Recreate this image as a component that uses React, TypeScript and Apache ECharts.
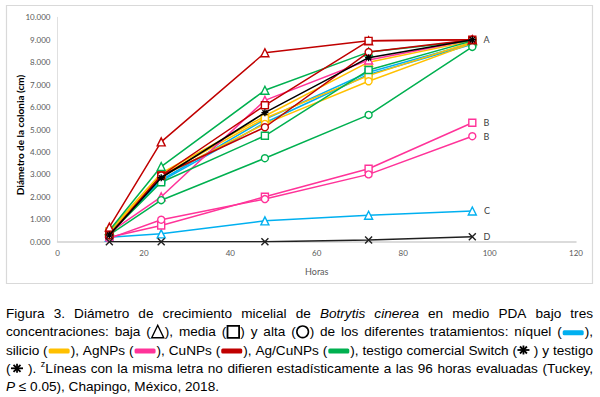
import React, { useEffect, useRef } from "react";
import * as echarts from "echarts";

// ---------- data ----------
const hours = [12, 24, 48, 72, 96];

const niquelBaja = [0.2, 0.35, 0.93, 1.18, 1.37];
const niquelMedia = [0.45, 2.75, 5.45, 7.55, 8.85];
const niquelAlta = [0.4, 2.7, 5.3, 7.45, 8.8];

const silicioBaja = [0.5, 3.05, 5.6, 8.0, 8.95];
const silicioMedia = [0.45, 2.95, 5.5, 7.4, 8.9];
const silicioAlta = [0.35, 2.9, 5.25, 7.15, 8.85];

const agnpsBaja = [0.4, 2.0, 6.3, 8.1, 9.0];
const agnpsMedia = [0.2, 0.72, 2.0, 3.25, 5.3];
const agnpsAlta = [0.15, 0.98, 1.9, 3.0, 4.7];

const agcuBaja = [0.5, 3.35, 6.75, 8.45, 8.95];
const agcuMedia = [0.35, 2.65, 4.72, 7.65, 8.95];
const agcuAlta = [0.3, 1.85, 3.72, 5.65, 8.68];

const cunpsBaja = [0.65, 4.45, 8.42, 8.95, 9.0];
const cunpsMedia = [0.3, 2.95, 6.08, 8.95, 9.0];
const cunpsAlta = [0.28, 2.95, 5.1, 8.45, 9.0];

const switchComercial = [0.3, 2.85, 5.75, 8.2, 9.0];
const testigo = [0.0, 0.0, 0.0, 0.08, 0.22];

const xTicks = { min: 0, max: 120, interval: 20 };
const yTicks = { min: 0, max: 10, interval: 1 };

const yTitle = "Diámetro de la colonia (cm)";
const xTitle = "Horas";

// ---------- caption ----------
type Piece =
  | string
  | { i: string }
  | { sup: string }
  | { shape: "tri" | "sq" | "cir" | "ast" }
  | { bar: string };
type Word = Piece[];

const BLUE = "#00B0F0";
const YELLOW = "#FFC000";
const PINK = "#FF3399";
const RED = "#C00000";
const GREEN = "#00B050";
const BLACK = "#000000";

const w = (s: string): Word => [s];
const captionLines: Word[][] = [
  [
    w("Figura"), w("3."), w("Diámetro"), w("de"), w("crecimiento"), w("micelial"), w("de"),
    [{ i: "Botrytis" }], [{ i: "cinerea" }], w("en"), w("medio"), w("PDA"), w("bajo"), w("tres"),
  ],
  [
    w("concentraciones:"), w("baja"), ["(", { shape: "tri" }, "),"], w("media"),
    ["(", { shape: "sq" }, ")"], w("y"), w("alta"), ["(", { shape: "cir" }, ")"], w("de"), w("los"),
    w("diferentes"), w("tratamientos:"), w("níquel"), ["(", { bar: BLUE }, "),"],
  ],
  [
    w("silicio"), ["(", { bar: YELLOW }, "),"], w("AgNPs"), ["(", { bar: PINK }, "),"], w("CuNPs"),
    ["(", { bar: RED }, "),"], w("Ag/CuNPs"), ["(", { bar: GREEN }, "),"], w("testigo"), w("comercial"),
    w("Switch"), ["(", { shape: "ast" }], w(")"), w("y"), w("testigo"),
  ],
  [
    ["(", { shape: "ast" }], w(")."), [{ sup: "z" }, "Líneas"], w("con"), w("la"), w("misma"), w("letra"),
    w("no"), w("difieren"), w("estadísticamente"), w("a"), w("las"), w("96"), w("horas"), w("evaluadas"),
    w("(Tuckey,"),
  ],
  [[{ i: "P" }], w("≤"), w("0.05),"), w("Chapingo,"), w("México,"), w("2018.")],
];
const captionY = [313.5, 331.8, 350, 368.3, 386.5];

const FONT = '"Liberation Sans", Arial, sans-serif';
const FS = 13.6;

function buildCaption(): any[] {
  const cv = document.createElement("canvas");
  const ctx = cv.getContext("2d") as CanvasRenderingContext2D;
  const mw = (t: string, italic: boolean, size: number) => {
    ctx.font = `${italic ? "italic " : ""}${size}px ${FONT}`;
    return ctx.measureText(t).width;
  };
  const pw = (p: Piece): number => {
    if (typeof p === "string") return mw(p, false, FS);
    if ("i" in p) return mw(p.i, true, FS);
    if ("sup" in p) return mw(p.sup, false, 9);
    if ("shape" in p) return p.shape === "ast" ? 13 : 14;
    return 23;
  };
  const x0 = 6;
  const W = 587;
  const els: any[] = [];
  captionLines.forEach((line, li) => {
    const yc = captionY[li];
    const widths = line.map((wd) => wd.reduce((s, p) => s + pw(p), 0));
    const total = widths.reduce((a, b) => a + b, 0);
    const justified = li < captionLines.length - 1;
    const gap = justified ? (W - total) / (line.length - 1) : mw(" ", false, FS);
    let x = x0;
    line.forEach((wd, wi) => {
      let px = x;
      wd.forEach((p) => {
        const pwid = pw(p);
        if (typeof p === "string" || "i" in p || "sup" in p) {
          const txt = typeof p === "string" ? p : "i" in p ? p.i : (p as any).sup;
          const italic = typeof p !== "string" && "i" in p;
          const sup = typeof p !== "string" && "sup" in p;
          els.push({
            type: "text",
            x: px,
            y: sup ? yc - 4 : yc,
            silent: true,
            style: {
              text: txt,
              font: `${italic ? "italic " : ""}${sup ? 9 : FS}px ${FONT}`,
              fill: "#000",
              textAlign: "left",
              textVerticalAlign: "middle",
            },
          });
        } else if ("shape" in p) {
          const st = { fill: "none", stroke: "#000", lineWidth: 1.4 };
          if (p.shape === "tri") {
            els.push({
              type: "polygon",
              silent: true,
              shape: { points: [[px + 1, yc + 6], [px + 13, yc + 6], [px + 7, yc - 6.5]] },
              style: st,
            });
          } else if (p.shape === "sq") {
            els.push({
              type: "rect",
              silent: true,
              shape: { x: px + 1.2, y: yc - 6, width: 11.6, height: 12 },
              style: { ...st, lineWidth: 1.8 },
            });
          } else if (p.shape === "cir") {
            els.push({
              type: "circle",
              silent: true,
              shape: { cx: px + 7, cy: yc, r: 5.8 },
              style: { ...st, lineWidth: 1.6 },
            });
          } else {
            const cx = px + 6.5;
            const lst = { stroke: "#000", lineWidth: 1.8 };
            els.push({ type: "line", silent: true, shape: { x1: px + 0.5, y1: yc, x2: px + 12.5, y2: yc }, style: lst });
            els.push({ type: "line", silent: true, shape: { x1: cx, y1: yc - 4.5, x2: cx, y2: yc + 4.5 }, style: lst });
            els.push({ type: "line", silent: true, shape: { x1: cx - 3.5, y1: yc - 3.5, x2: cx + 3.5, y2: yc + 3.5 }, style: lst });
            els.push({ type: "line", silent: true, shape: { x1: cx + 3.5, y1: yc - 3.5, x2: cx - 3.5, y2: yc + 3.5 }, style: lst });
          }
        } else {
          els.push({
            type: "rect",
            silent: true,
            shape: { x: px + 1, y: yc - 1.5, width: 21, height: 5, r: 1.5 },
            style: { fill: (p as any).bar },
          });
        }
        px += pwid;
      });
      x += widths[wi] + gap;
    });
  });
  return els;
}

// ---------- series ----------
const seriesNames = [
  "Níquel baja", "Níquel media", "Níquel alta",
  "Silicio baja", "Silicio media", "Silicio alta",
  "AgNPs baja", "AgNPs media", "AgNPs alta",
  "Ag/CuNPs baja", "Ag/CuNPs media", "Ag/CuNPs alta",
  "CuNPs baja", "CuNPs media", "CuNPs alta",
  "Switch", "Testigo",
];
const seriesValues = [
  niquelBaja, niquelMedia, niquelAlta,
  silicioBaja, silicioMedia, silicioAlta,
  agnpsBaja, agnpsMedia, agnpsAlta,
  agcuBaja, agcuMedia, agcuAlta,
  cunpsBaja, cunpsMedia, cunpsAlta,
  switchComercial, testigo,
];
const seriesColors = [
  BLUE, BLUE, BLUE, YELLOW, YELLOW, YELLOW, PINK, PINK, PINK,
  GREEN, GREEN, GREEN, RED, RED, RED, BLACK, "#202020",
];
const ASTER = "path://M0,5L10,5M5,0L5,10M1.5,1.5L8.5,8.5M8.5,1.5L1.5,8.5";
const XMARK = "path://M0,0L10,10M10,0L0,10";
const seriesSymbols = [
  "triangle", "rect", "circle", "triangle", "rect", "circle", "triangle", "rect", "circle",
  "triangle", "rect", "circle", "triangle", "rect", "circle", ASTER, XMARK,
];
const letters = ["C", "", "", "", "", "", "", "B", "B", "", "", "", "", "A", "", "", "D"];

export default function App() {
  const ref = useRef<HTMLDivElement>(null);
  useEffect(() => {
    if (!ref.current) return;
    const chart = echarts.init(ref.current, undefined, { renderer: "svg" });
    const series = seriesValues.map((vals, si) => {
      const color = seriesColors[si];
      const isPath = String(seriesSymbols[si]).startsWith("path://");
      return {
        name: seriesNames[si],
        type: "line",
        symbol: seriesSymbols[si],
        symbolSize: isPath ? 7 : seriesSymbols[si] === "triangle" ? 8 : 7,
        lineStyle: { color, width: 1.5 },
        itemStyle: {
          color: isPath ? color : "#ffffff",
          borderColor: color,
          borderWidth: 1.4,
        },
        z: 2 + si,
        data: hours.map((h, i) => {
          const d: any = { value: [h, vals[i]] };
          if (i === hours.length - 1 && letters[si]) {
            d.label = {
              show: true,
              position: "right",
              distance: 7,
              formatter: letters[si],
              color: "#404040",
              fontSize: 9,
              fontFamily: "Lato",
            };
          }
          return d;
        }),
      };
    });
    const graphic: any[] = [
      {
        type: "rect",
        silent: true,
        z: -10,
        shape: { x: 6.5, y: 5.5, width: 586, height: 278 },
        style: { fill: "none", stroke: "#d9d9d9", lineWidth: 1.2 },
      },
      {
        type: "text",
        x: 20,
        y: 135,
        rotation: Math.PI / 2,
        silent: true,
        style: {
          text: yTitle,
          font: 'bold 10px Lato, "Liberation Sans", sans-serif',
          fill: "#000",
          textAlign: "center",
          textVerticalAlign: "middle",
        },
      },
      ...buildCaption(),
    ];
    chart.setOption({
      animation: false,
      backgroundColor: "#ffffff",
      grid: { left: 57.5, right: 24, top: 17.3, bottom: 155.3, containLabel: false },
      xAxis: {
        type: "value",
        min: xTicks.min,
        max: xTicks.max,
        interval: xTicks.interval,
        axisLine: { show: true, lineStyle: { color: "#d0d0d0", width: 1.5 } },
        axisTick: { show: false },
        splitLine: { show: false },
        axisLabel: { color: "#595959", fontSize: 8, fontFamily: "Lato", margin: 7 },
        name: xTitle,
        nameLocation: "middle",
        nameGap: 25,
        nameTextStyle: { color: "#595959", fontSize: 9, fontFamily: "Lato" },
      },
      yAxis: {
        type: "value",
        min: yTicks.min,
        max: yTicks.max,
        interval: yTicks.interval,
        axisLine: { show: true, lineStyle: { color: "#e0e0e0", width: 1 } },
        axisTick: { show: false },
        splitLine: { show: false },
        axisLabel: {
          color: "#595959",
          fontSize: 8,
          fontFamily: "Lato",
          margin: 7,
          formatter: (v: number) => v.toFixed(3),
        },
      },
      graphic,
      series,
    });
    return () => chart.dispose();
  }, []);
  return (
    <div
      ref={ref}
      style={{ position: "fixed", left: 0, top: 0, width: 600, height: 397, background: "#fff" }}
    />
  );
}
